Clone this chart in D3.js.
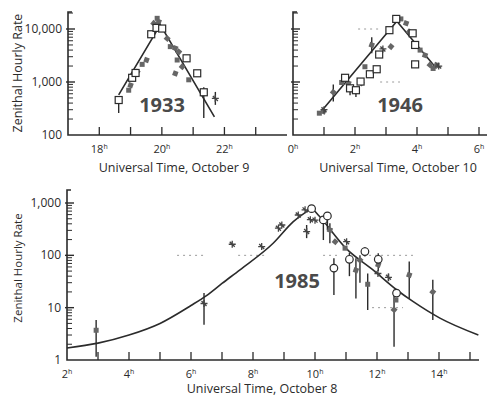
<!DOCTYPE html>
<html>
<head>
<meta charset="utf-8">
<script src="https://cdn.jsdelivr.net/npm/d3@7"></script>
<style>
  body { margin: 0; background: #fff; }
  svg { display: block; font-family: 'Open Sans', 'Noto Sans', sans-serif; }
</style>
</head>
<body>
<div id="chart"></div>
<script>
// ---- data (hours UT, zenithal hourly rate) ----
// [t, value, low, high]  (low/high = error bar, omitted when none)
const years = ['1933', '1946', '1985'];
const xTitles = ['Universal Time, October 9', 'Universal Time, October 10', 'Universal Time, October 8'];
const yTitle = 'Zenithal Hourly Rate';

const fit1933 = [[18.62, 570], [19.95, 12000], [21.68, 220]];
const open1933 = [[18.62, 457, 260, 457], [19.05, 1200], [19.16, 1480], [19.66, 7960], [19.83, 10500],
  [20.01, 10200], [20.79, 2800], [21.13, 1460], [21.34, 640, 209, 800]];
const filled1933 = [[18.94, 700], [19.0, 870], [19.21, 1550], [19.37, 2150], [19.51, 2600], [19.74, 12800],
  [19.85, 15900], [19.9, 13700], [20.17, 6600], [20.27, 4650], [20.43, 4350], [20.54, 3700], [20.49, 2600],
  [20.43, 1450], [20.65, 1940], [20.86, 1100]];
const cross1933 = [[21.71, 490, 370, 650]];

const fit1946 = [[0.82, 240], [3.35, 14000], [4.63, 1800]];
const open1946 = [[1.68, 1200], [1.84, 760, 560, 760], [2.03, 700, 520, 700], [2.18, 1020], [2.48, 1400],
  [2.70, 1740], [2.78, 3300], [3.11, 9500], [3.33, 15500], [3.86, 8300], [3.94, 5000], [3.94, 2150]];
const filled1946 = [[0.85, 258], [0.98, 277], [1.30, 640, 430, 900], [1.57, 980], [1.79, 950], [2.2, 960],
  [2.32, 1940], [2.54, 5000, 3500, 7000], [3.16, 4650], [3.48, 15500], [3.65, 12800], [3.75, 8900],
  [4.10, 4000], [4.26, 3200], [4.42, 2100], [4.52, 1800], [4.63, 2100]];
const cross1946 = [[1.0, 300], [2.9, 4200], [4.7, 2000]];
const ref1946 = [[2.1, 2.87, 10000], [2.81, 3.45, 1000]];

const rise1985 = [[2, 1.7], [3, 2.1], [4, 3.0], [5, 5.0], [6, 11], [6.5, 17], [7, 29], [7.58, 53],
  [8.65, 170], [9.3, 440], [9.9, 800]];
const fall1985 = [[9.9, 800], [10.15, 550], [11.0, 136], [11.88, 52], [12.63, 22], [13.17, 13],
  [14.03, 6.3], [15.27, 3.0]];
const open1985 = [[9.89, 780], [10.27, 475, 196, 475], [10.40, 565, 300, 565], [10.61, 57, 17.5, 88],
  [11.11, 84, 40, 112], [11.61, 118, 95, 145], [12.04, 84, 50, 110], [12.63, 19]];
const filled1985 = [[2.94, 3.7, 1.15, 5.8], [10.48, 305, 170, 410], [10.65, 182], [10.97, 137],
  [11.32, 52, 15, 88], [11.45, 81, 30, 100], [11.70, 28, 9, 45], [12.04, 66], [12.55, 9.1, 1.8, 22],
  [12.61, 14], [13.04, 42, 15, 76], [13.80, 20, 5.8, 34]];
const cross1985 = [[6.42, 12, 4.7, 19], [7.33, 163], [8.28, 147], [8.82, 330], [8.93, 380], [9.46, 590],
  [9.68, 740], [9.73, 285, 213, 380], [9.85, 480], [10.0, 470], [11.02, 182], [12.03, 45], [12.37, 38, 32, 45]];
const ref1985 = [[5.55, 6.39, 100], [7.52, 8.39, 100], [10.26, 10.71, 100], [11.55, 13.16, 100], [11.84, 12.84, 10]];

// ---- layout ----
const ink = '#2b2b2b';
const svg = d3.select('#chart').append('svg')
  .attr('width', 487)
  .attr('height', 399);

const panels = [
  {year: years[0], xDomain: [17, 24], xRange: [68, 287], axisEnd: 287, yDomain: [100, 10000], yRange: [135, 29],
    yTop: 12, yLabels: true, labelTicks: [18, 20, 22], ticks: d3.range(18, 24), yLabelY: 73,
    title: xTitles[0], titleX: 174, titleY: 172, tickY: 153, yearX: 162, yearY: 112, curve: d3.curveLinear,
    fits: [fit1933], open: open1933, filled: filled1933, cross: cross1933, refs: [], openShape: 'square'},
  {year: years[1], xDomain: [0, 6], xRange: [293, 479], axisEnd: 487, yDomain: [100, 10000], yRange: [135, 29],
    yTop: 12, yLabels: false, labelTicks: [0, 2, 4, 6], ticks: d3.range(1, 7), yLabelY: 73,
    title: xTitles[1], titleX: 398, titleY: 172, tickY: 153, yearX: 400, yearY: 112, curve: d3.curveLinear,
    fits: [fit1946], open: open1946, filled: filled1946, cross: cross1946, refs: ref1946, openShape: 'square'},
  {year: years[2], xDomain: [2, 15], xRange: [67, 470], axisEnd: 479, yDomain: [1, 1000], yRange: [360, 203],
    yTop: 190, yLabels: true, labelTicks: [2, 4, 6, 8, 10, 12, 14], ticks: d3.range(3, 16), yLabelY: 268,
    title: xTitles[2], titleX: 262, titleY: 393, tickY: 378, yearX: 297, yearY: 288, curve: d3.curveMonotoneX,
    fits: [rise1985, fall1985], open: open1985, filled: filled1985, cross: cross1985, refs: ref1985, openShape: 'circle'}
];

panels.forEach((p, i) => {
  const x = d3.scaleLinear().domain(p.xDomain).range(p.xRange);
  const y = d3.scaleLog().domain(p.yDomain).range(p.yRange);
  const x0 = p.xRange[0];
  const y0 = p.yRange[0];
  const g = svg.append('g').attr('class', 'panel-' + p.year);

  // Y axis line + cap
  g.append('path')
    .attr('d', 'M' + (x0 + 4) + ',' + p.yTop + 'H' + x0 + 'V' + y0 + 'H' + p.axisEnd)
    .attr('fill', 'none')
    .attr('stroke', ink)
    .attr('stroke-width', 1.6);

  // log ticks (major + minor), inside
  const yMax = y.invert(p.yTop);
  const logTicks = [];
  for (let d = p.yDomain[0]; d < yMax; d *= 10) {
    for (let k = 1; k < 10; k++) {
      if (d * k <= yMax) logTicks.push({v: d * k, major: k === 1});
    }
  }
  g.append('g').selectAll('line')
    .data(logTicks.filter(t => t.v > p.yDomain[0]))
    .enter().append('line')
      .attr('x1', d => d.major ? x0 - 2 : x0)
      .attr('x2', d => d.major ? x0 + 7 : x0 + 5)
      .attr('y1', d => y(d.v))
      .attr('y2', d => y(d.v))
      .attr('stroke', ink)
      .attr('stroke-width', d => d.major ? 1.4 : 1);

  if (p.yLabels) {
    g.append('g').selectAll('text')
      .data(logTicks.filter(t => t.major))
      .enter().append('text')
        .attr('x', x0 - 6)
        .attr('y', d => y(d.v) + 4)
        .attr('text-anchor', 'end')
        .attr('font-size', 12)
        .attr('fill', ink)
        .text(d => d3.format(',')(d.v));

    g.append('text')
      .attr('transform', 'translate(22,' + p.yLabelY + ') rotate(-90)')
      .attr('text-anchor', 'middle')
      .attr('font-size', i === 2 ? 11.5 : 12.5)
      .attr('fill', ink)
      .text(yTitle);
  }

  // X ticks pointing up
  g.append('g').selectAll('line')
    .data(p.ticks)
    .enter().append('line')
      .attr('x1', d => x(d))
      .attr('x2', d => x(d))
      .attr('y1', y0)
      .attr('y2', y0 - 8)
      .attr('stroke', ink)
      .attr('stroke-width', 1.3);

  const lbl = g.append('g').selectAll('text')
    .data(p.labelTicks)
    .enter().append('text')
      .attr('x', d => x(d))
      .attr('y', p.tickY)
      .attr('text-anchor', 'middle')
      .attr('font-size', 11)
      .attr('fill', ink);
  lbl.append('tspan').text(d => d);
  lbl.append('tspan').attr('font-size', 7).attr('dy', -4).text('h');

  g.append('text')
    .attr('x', p.titleX)
    .attr('y', p.titleY)
    .attr('text-anchor', 'middle')
    .attr('font-size', 12.5)
    .attr('fill', ink)
    .text(p.title);

  // faint dotted reference segments from the scan
  g.append('g').selectAll('line')
    .data(p.refs)
    .enter().append('line')
      .attr('x1', d => x(d[0]))
      .attr('x2', d => x(d[1]))
      .attr('y1', d => y(d[2]))
      .attr('y2', d => y(d[2]))
      .attr('stroke', '#9a9a9a')
      .attr('stroke-dasharray', '2,4');

  // fitted curve(s)
  const line = d3.line()
    .x(d => x(d[0]))
    .y(d => y(d[1]))
    .curve(p.curve);
  g.append('g').selectAll('path')
    .data(p.fits)
    .enter().append('path')
      .attr('d', d => line(d))
      .attr('fill', 'none')
      .attr('stroke', ink)
      .attr('stroke-width', 1.6);

  // error bars
  const all = p.open.concat(p.filled, p.cross).filter(d => d.length > 2);
  g.append('g').selectAll('line')
    .data(all)
    .enter().append('line')
      .attr('x1', d => x(d[0]))
      .attr('x2', d => x(d[0]))
      .attr('y1', d => y(d[2]))
      .attr('y2', d => y(d[3]))
      .attr('stroke', ink)
      .attr('stroke-width', 1.4);

  // filled marks (gray smudgy squares)
  g.append('g').selectAll('rect')
    .data(p.filled)
    .enter().append('rect')
      .attr('x', d => x(d[0]) - 2.5)
      .attr('y', d => y(d[1]) - 2.5)
      .attr('width', 5)
      .attr('height', 5)
      .attr('fill', '#666')
      .attr('transform', (d, j) => 'rotate(' + (j % 3) * 20 + ',' + x(d[0]) + ',' + y(d[1]) + ')');

  // crosses
  g.append('g').selectAll('path')
    .data(p.cross)
    .enter().append('path')
      .attr('transform', d => 'translate(' + x(d[0]) + ',' + y(d[1]) + ')')
      .attr('d', 'M-3.5,0H3.5M0,-3.5V3.5M-2.5,-2.5L2.5,2.5')
      .attr('stroke', '#444')
      .attr('stroke-width', 1.3);

  // open marks
  if (p.openShape === 'square') {
    g.append('g').selectAll('rect')
      .data(p.open)
      .enter().append('rect')
        .attr('x', d => x(d[0]) - 3.5)
        .attr('y', d => y(d[1]) - 3.5)
        .attr('width', 7)
        .attr('height', 7)
        .attr('fill', '#fff')
        .attr('stroke', ink)
        .attr('stroke-width', 1.2);
  } else {
    g.append('g').selectAll('circle')
      .data(p.open)
      .enter().append('circle')
        .attr('cx', d => x(d[0]))
        .attr('cy', d => y(d[1]))
        .attr('r', 3.8)
        .attr('fill', '#fff')
        .attr('stroke', ink)
        .attr('stroke-width', 1.2);
  }

  // year label
  g.append('text')
    .attr('x', p.yearX)
    .attr('y', p.yearY)
    .attr('text-anchor', 'middle')
    .attr('font-size', 20)
    .attr('font-weight', 'bold')
    .attr('fill', '#4a4a4a')
    .text(p.year);
});
</script>
</body>
</html>
